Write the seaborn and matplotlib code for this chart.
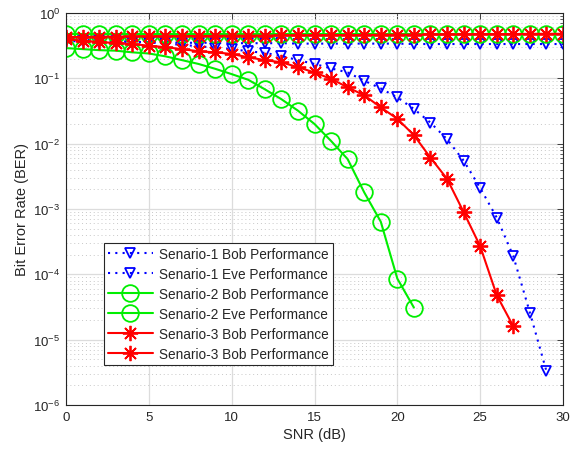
import numpy as np
import pandas as pd
import matplotlib
matplotlib.use("Agg")
import matplotlib.pyplot as plt
import seaborn as sns
from matplotlib.ticker import LogLocator, NullFormatter, FixedLocator

snr = list(range(0, 31))

s1_bob = [0.40, 0.39, 0.385, 0.375, 0.365, 0.355, 0.34, 0.325, 0.31, 0.295,
          0.28, 0.26, 0.245, 0.22, 0.19, 0.166, 0.142, 0.123, 0.092, 0.070,
          0.051, 0.034, 0.021, 0.0117, 0.0055, 0.0021, 7.4e-4, 1.9e-4, 2.6e-5, 3.3e-6]
s1_eve = [0.37, 0.37, 0.365, 0.36, 0.36, 0.355, 0.355, 0.35, 0.35, 0.35,
          0.345, 0.345, 0.345, 0.345, 0.34, 0.34, 0.34, 0.34, 0.34, 0.34,
          0.34, 0.335, 0.335, 0.335, 0.335, 0.335, 0.335, 0.335, 0.335, 0.335, 0.335]
s2_bob = [0.29, 0.28, 0.27, 0.265, 0.25, 0.24, 0.217, 0.19, 0.166, 0.14,
          0.116, 0.095, 0.068, 0.048, 0.032, 0.020, 0.011, 0.0058, 0.0018, 6.4e-4,
          8.6e-5, 3.1e-5]
s2_eve = [0.47, 0.47, 0.47, 0.47, 0.47, 0.47, 0.47, 0.47, 0.47, 0.47,
          0.47, 0.47, 0.47, 0.47, 0.47, 0.47, 0.47, 0.47, 0.47, 0.47,
          0.47, 0.47, 0.47, 0.47, 0.47, 0.47, 0.47, 0.47, 0.47, 0.47, 0.47]
s3_bob = [0.40, 0.376, 0.36, 0.347, 0.335, 0.316, 0.30, 0.28, 0.26, 0.25,
          0.236, 0.21, 0.19, 0.176, 0.148, 0.123, 0.098, 0.073, 0.055, 0.036,
          0.024, 0.0135, 0.0061, 0.0029, 9e-4, 2.7e-4, 4.8e-5, 1.6e-5]
s3_eve = [0.43, 0.43, 0.435, 0.435, 0.44, 0.44, 0.44, 0.445, 0.445, 0.445,
          0.45, 0.45, 0.45, 0.455, 0.455, 0.455, 0.46, 0.46, 0.46, 0.465,
          0.465, 0.465, 0.47, 0.47, 0.47, 0.475, 0.475, 0.475, 0.48, 0.48, 0.48]

labels = ["Senario-1 Bob Performance", "Senario-1 Eve Performance",
          "Senario-2 Bob Performance", "Senario-2 Eve Performance",
          "Senario-3 Bob Performance", "Senario-3 Bob Performance"]
x_ticks = [0, 5, 10, 15, 20, 25, 30]
y_ticks = [1e-6, 1e-5, 1e-4, 1e-3, 1e-2, 1e-1, 1e0]
y_ticklabels = [r"$10^{-6}$", r"$10^{-5}$", r"$10^{-4}$", r"$10^{-3}$",
                r"$10^{-2}$", r"$10^{-1}$", r"$10^{0}$"]

sns.set_style("white")
plt.rcParams['font.family'] = ['Liberation Sans', 'DejaVu Sans']
plt.rcParams['mathtext.fontset'] = 'custom'
plt.rcParams['mathtext.rm'] = 'Liberation Sans'
plt.rcParams['mathtext.it'] = 'Liberation Sans'

fig = plt.figure(figsize=(5.7, 4.56), dpi=100)
ax = fig.add_axes([66/570, 1-406/456, (563-66)/570, (406-14)/456])

asterisk = (8, 2, 0)
series = [
    (s1_bob, labels[0], 'blue', (0, (1, 2.5)), 'v', 7),
    (s1_eve, labels[1], 'blue', (0, (1, 2.5)), 'v', 7),
    (s2_bob, labels[2], '#00ee00', '-', 'o', 12),
    (s2_eve, labels[3], '#00ee00', '-', 'o', 12),
    (s3_bob, labels[4], 'red', '-', asterisk, 11),
    (s3_eve, labels[5], 'red', '-', asterisk, 11),
]
for vals, lab, col, ls, mk, ms in series:
    df = pd.DataFrame({"SNR": snr[:len(vals)], "BER": vals})
    sns.lineplot(data=df, x="SNR", y="BER", ax=ax, color=col, linestyle=ls,
                 marker=mk, markersize=ms, markerfacecolor='none',
                 markeredgecolor=col, markeredgewidth=1.3, linewidth=1.5,
                 label=lab)

ax.set_yscale('log')
ax.set_xlim(0, 30)
ax.set_ylim(1e-6, 1)
ax.xaxis.set_major_locator(FixedLocator(x_ticks))
ax.set_xticklabels([str(t) for t in x_ticks])
ax.yaxis.set_major_locator(FixedLocator(y_ticks))
ax.set_yticklabels(y_ticklabels)
ax.yaxis.set_minor_locator(LogLocator(base=10, subs=np.arange(2, 10)))
ax.yaxis.set_minor_formatter(NullFormatter())

ax.grid(True, which='major', color='#dcdcdc', linewidth=0.9, linestyle='-')
ax.grid(True, which='minor', axis='y', color='#c8c8c8', linewidth=0.7, linestyle=(0, (1, 3)))
ax.set_axisbelow(True)

ax.tick_params(which='both', direction='in', top=True, right=True, labelsize=9.5,
               colors='#262626', pad=4)
ax.tick_params(which='major', length=4, width=0.6)
ax.tick_params(which='minor', length=2, width=0.5)
for sp in ax.spines.values():
    sp.set_visible(True)
    sp.set_color('#262626')
    sp.set_linewidth(0.8)

ax.set_xlabel("SNR (dB)", fontsize=10.5, color='#262626', labelpad=3)
ax.set_ylabel("Bit Error Rate (BER)", fontsize=10.5, color='#262626', labelpad=3)

leg = ax.legend(loc='upper left', bbox_to_anchor=(0.076, 0.413), fontsize=9.8,
                frameon=True, fancybox=False, framealpha=1, edgecolor='#262626',
                handlelength=3.3, handletextpad=0.45, borderpad=0.3,
                labelspacing=0.44, borderaxespad=0)
leg.get_frame().set_linewidth(0.8)

fig.savefig("out.png", dpi=100)
